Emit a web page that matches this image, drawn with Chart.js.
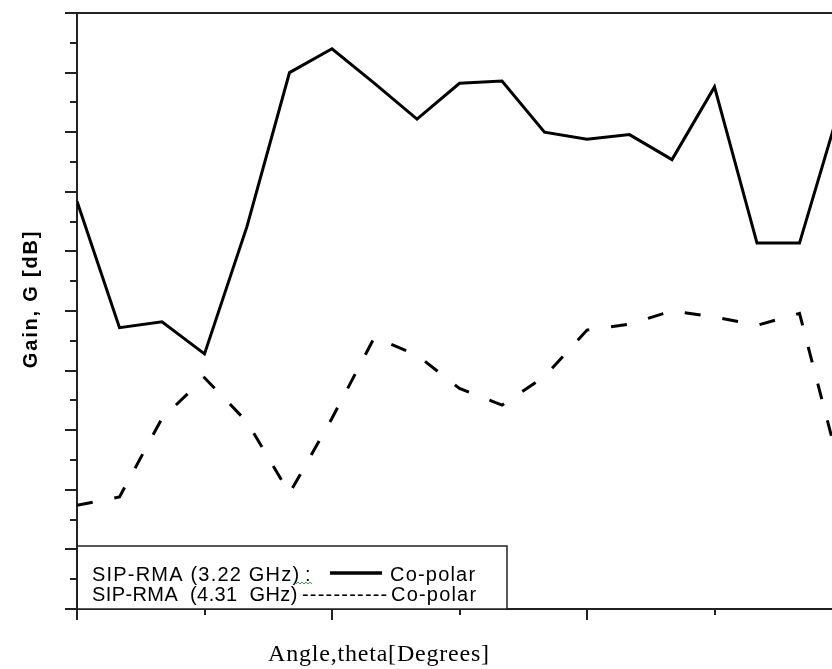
<!DOCTYPE html>
<html>
<head>
<meta charset="utf-8">
<title>Gain vs Angle</title>
<script src="https://cdn.jsdelivr.net/npm/chart.js@4.4.1/dist/chart.umd.min.js"></script>
<style>
  html, body { margin: 0; padding: 0; background: #fff; overflow: hidden; }
  #wrap { width: 870px; height: 669px; }
</style>
</head>
<body>
<div id="wrap"><canvas id="gain-chart" width="870" height="669"></canvas></div>
<script>
/*------------------
     Data
--------------------*/
var angles     = [0, 10, 20, 30, 40, 50, 60, 70, 80, 90, 100, 110, 120, 130, 140, 150, 160, 170, 180];
var coPolar322 = [-5.8, -16.4, -15.9, -18.6, -7.9, 5.0, 7.0, 4.1, 1.1, 4.1, 4.3, 0.0, -0.6, -0.2, -2.3, 3.8, -9.3, -9.3, 2.7];
var coPolar431 = [-31.3, -30.6, -24.0, -20.6, -24.3, -30.3, -24.0, -17.2, -18.7, -21.5, -22.9, -20.5, -16.6, -16.1, -15.0, -15.5, -16.2, -15.2, -28.9];

var seriesNames = ["SIP-RMA (3.22 GHz)", "SIP-RMA  (4.31  GHz)"];
var polLabel = "Co-polar";
var xTitle = "Angle,theta[Degrees]";
var yTitle = "Gain, G [dB]";

var xTickValues = [0, 30, 60, 90, 120, 150, 180];
var yTickValues = [-40, -37.5, -35, -32.5, -30, -27.5, -25, -22.5, -20, -17.5, -15, -12.5, -10, -7.5, -5, -2.5, 0, 2.5, 5, 7.5, 10];

function toPoints(values) {
    return values.map(function (v, i) { return { x: angles[i], y: v }; });
}

/*------------------
     Frame, ticks, legend, titles
--------------------*/
var framePlugin = {
    id: "frame",
    afterDraw: function (chart) {
        var ctx = chart.ctx;
        var area = chart.chartArea;
        var xs = chart.scales.x;
        var ys = chart.scales.y;

        ctx.save();
        ctx.strokeStyle = "#222";
        ctx.lineWidth = 2;

        // top border
        ctx.beginPath();
        ctx.moveTo(area.left, area.top);
        ctx.lineTo(area.right, area.top);
        ctx.stroke();

        // y ticks, long every 5 dB
        yTickValues.forEach(function (v) {
            var y = Math.round(ys.getPixelForValue(v));
            var len = (v % 5 === 0) ? 12 : 7;
            ctx.beginPath();
            ctx.moveTo(area.left, y);
            ctx.lineTo(area.left - len, y);
            ctx.stroke();
        });

        // x ticks, long every 60 deg
        xTickValues.forEach(function (v) {
            var x = Math.round(xs.getPixelForValue(v));
            var len = (v % 60 === 0) ? 11 : 6;
            ctx.beginPath();
            ctx.moveTo(x, area.bottom);
            ctx.lineTo(x, area.bottom + len);
            ctx.stroke();
        });

        // legend box
        var boxL = area.left, boxT = 546, boxR = 507, boxB = area.bottom;
        ctx.fillStyle = "#fff";
        ctx.fillRect(boxL + 1, boxT, boxR - boxL - 1, boxB - boxT);
        ctx.lineWidth = 1.5;
        ctx.strokeRect(boxL, boxT, boxR - boxL, boxB - boxT);

        ctx.fillStyle = "#000";
        ctx.font = "20px 'Liberation Sans', Arial, sans-serif";
        ctx.letterSpacing = "1.2px";
        ctx.textBaseline = "alphabetic";
        ctx.textAlign = "left";
        ctx.fillText(seriesNames[0], 92, 581);
        ctx.fillText(":", 305, 581);
        ctx.fillText(polLabel, 390, 581);
        ctx.letterSpacing = "0.4px";
        ctx.fillText(seriesNames[1], 92, 601);
        ctx.letterSpacing = "1.2px";
        ctx.fillText("-----------", 302, 601);
        ctx.fillText(polLabel, 391, 601);

        // spell-check squiggle
        ctx.strokeStyle = "#3aa53a";
        ctx.lineWidth = 1;
        ctx.beginPath();
        for (var i = 0; i <= 8; i++) {
            var px = 296 + i * 2;
            var py = (i % 2 === 0) ? 584 : 582;
            if (i === 0) ctx.moveTo(px, py); else ctx.lineTo(px, py);
        }
        ctx.stroke();

        // solid sample line
        ctx.strokeStyle = "#000";
        ctx.lineWidth = 3.5;
        ctx.beginPath();
        ctx.moveTo(330, 573);
        ctx.lineTo(382, 573);
        ctx.stroke();

        // x title
        ctx.font = "24px 'Liberation Serif', 'Times New Roman', serif";
        ctx.letterSpacing = "0.8px";
        ctx.fillText(xTitle, 268, 661);

        // y title
        ctx.translate(31, 299);
        ctx.rotate(-Math.PI / 2);
        ctx.font = "bold 20px 'Liberation Sans', Arial, sans-serif";
        ctx.letterSpacing = "1.8px";
        ctx.textAlign = "center";
        ctx.textBaseline = "middle";
        ctx.fillText(yTitle, 0, 0);
        ctx.restore();
    }
};

/*------------------
     Chart
--------------------*/
var gainChart = new Chart(document.getElementById("gain-chart"), {
    type: "line",
    data: {
        datasets: [
            {
                label: seriesNames[0],
                data: toPoints(coPolar322),
                borderColor: "#000",
                borderWidth: 3,
                pointRadius: 0,
                tension: 0,
                fill: false
            },
            {
                label: seriesNames[1],
                data: toPoints(coPolar431),
                borderColor: "#000",
                borderWidth: 3,
                borderDash: [16, 22],
                pointRadius: 0,
                tension: 0,
                fill: false
            }
        ]
    },
    options: {
        responsive: false,
        animation: false,
        layout: { padding: { left: 77, top: 13, right: 28, bottom: 60 } },
        plugins: {
            legend: { display: false },
            tooltip: { enabled: false }
        },
        scales: {
            x: {
                type: "linear",
                min: 0,
                max: 180,
                ticks: { display: false, stepSize: 30 },
                grid: { display: false },
                border: { display: true, color: "#222", width: 2 },
                afterFit: function (s) { s.height = 0; }
            },
            y: {
                min: -40,
                max: 10,
                ticks: { display: false, stepSize: 2.5 },
                grid: { display: false },
                border: { display: true, color: "#222", width: 2 },
                afterFit: function (s) { s.width = 0; }
            }
        }
    },
    plugins: [framePlugin]
});
</script>
</body>
</html>
